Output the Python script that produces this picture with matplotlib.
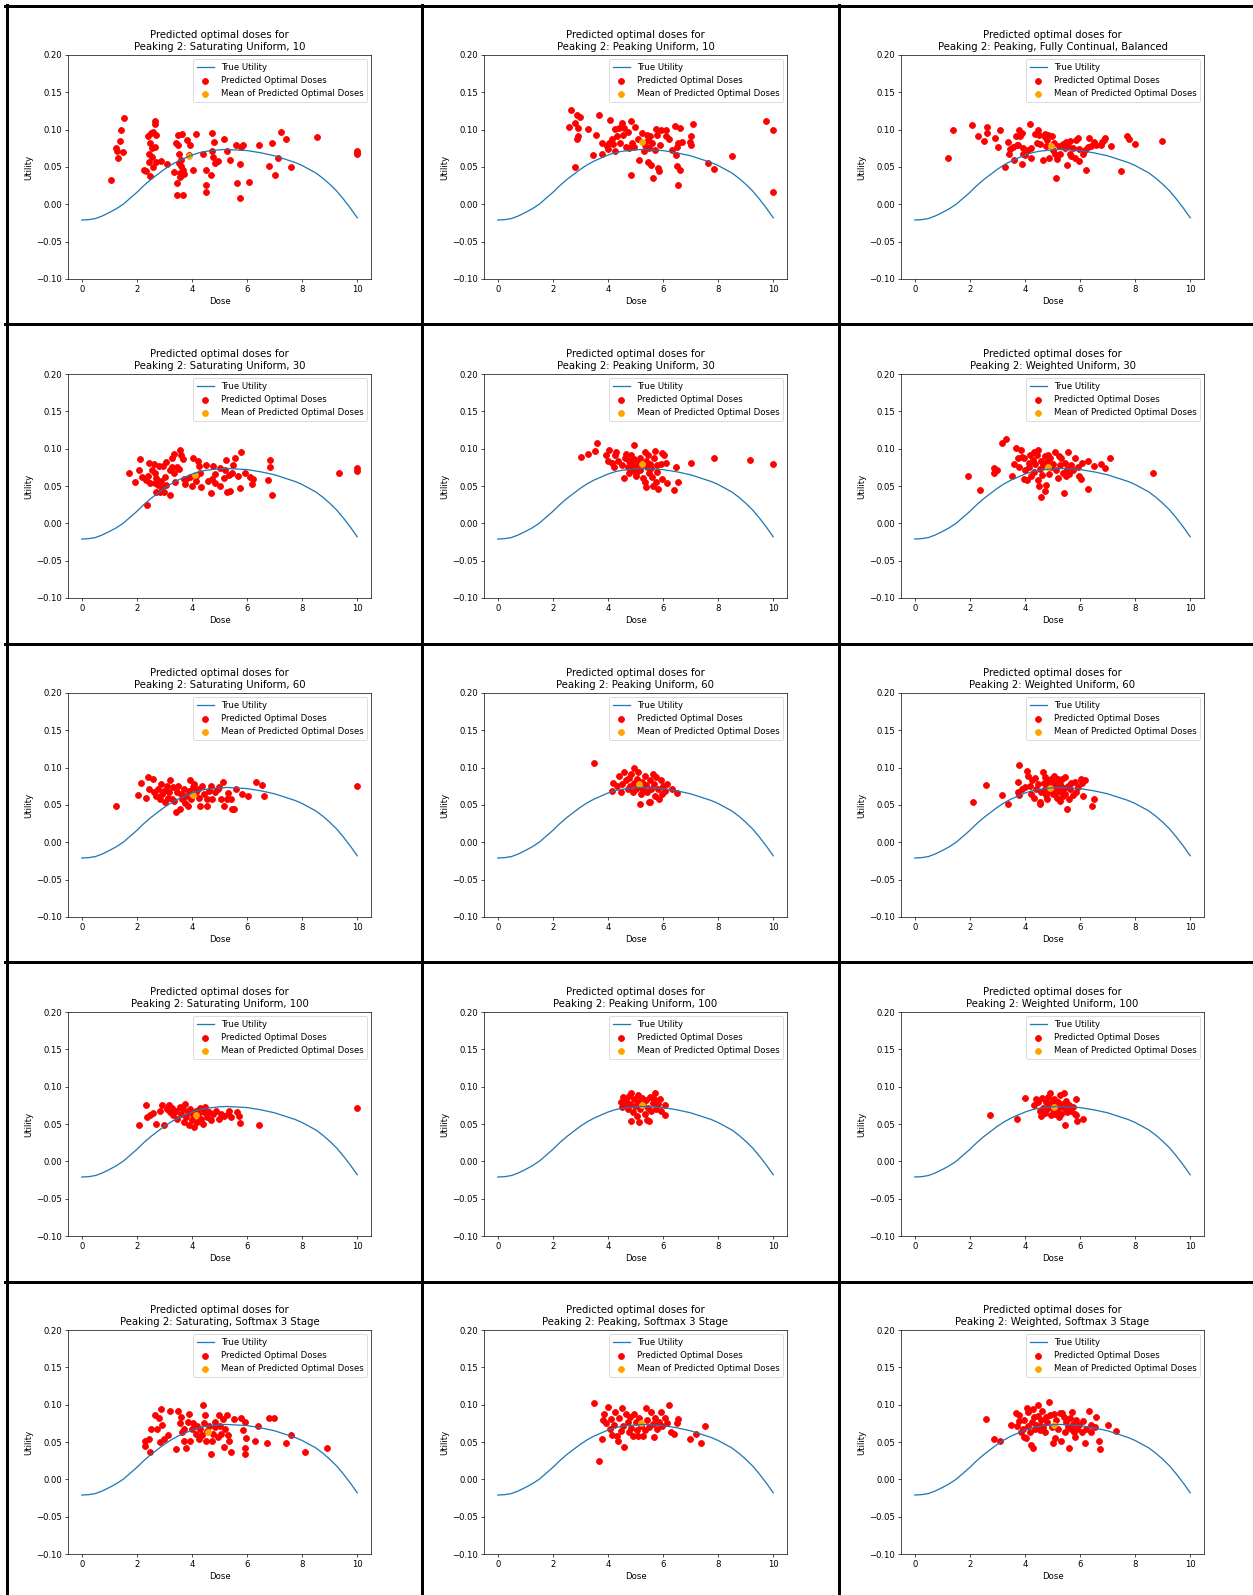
import matplotlib
matplotlib.use("Agg")
import matplotlib.pyplot as plt
from matplotlib.lines import Line2D

# true utility curve, every 0.25
curve_dose = [0, 0.25, 0.5, 0.75, 1, 1.25, 1.5, 1.75, 2, 2.25, 2.5, 2.75, 3, 3.25, 3.5, 3.75, 4,
              4.25, 4.5, 4.75, 5, 5.25, 5.5, 5.75, 6, 6.25, 6.5, 6.75, 7, 7.25, 7.5, 7.75, 8,
              8.25, 8.5, 8.75, 9, 9.25, 9.5, 9.75, 10]
curve_util = [-0.021, -0.0205, -0.019, -0.0155, -0.011, -0.006, 0.000, 0.008, 0.016, 0.025, 0.033,
              0.040, 0.047, 0.053, 0.058, 0.062, 0.066, 0.069, 0.071, 0.072, 0.073, 0.0735, 0.073,
              0.0725, 0.072, 0.0705, 0.069, 0.067, 0.065, 0.062, 0.059, 0.056, 0.052, 0.047, 0.042,
              0.035, 0.027, 0.018, 0.007, -0.005, -0.018]

titles = [
    "Peaking 2: Saturating Uniform, 10",
    "Peaking 2: Peaking Uniform, 10",
    "Peaking 2: Peaking, Fully Continual, Balanced",
    "Peaking 2: Saturating Uniform, 30",
    "Peaking 2: Peaking Uniform, 30",
    "Peaking 2: Weighted Uniform, 30",
    "Peaking 2: Saturating Uniform, 60",
    "Peaking 2: Peaking Uniform, 60",
    "Peaking 2: Weighted Uniform, 60",
    "Peaking 2: Saturating Uniform, 100",
    "Peaking 2: Peaking Uniform, 100",
    "Peaking 2: Weighted Uniform, 100",
    "Peaking 2: Saturating, Softmax 3 Stage",
    "Peaking 2: Peaking, Softmax 3 Stage",
    "Peaking 2: Weighted, Softmax 3 Stage",
]

# mean of predicted optimal doses (dose, utility)
means = [(3.90, 0.065), (5.24, 0.083), (4.95, 0.078),
         (4.11, 0.065), (5.24, 0.079), (4.83, 0.075),
         (4.04, 0.064), (5.14, 0.078), (4.90, 0.073),
         (4.13, 0.062), (5.23, 0.075), (5.07, 0.073),
         (4.58, 0.064), (5.19, 0.076), (5.05, 0.073)]

# predicted optimal doses (dose, utility) per panel
p1 = [(1.06, .033), (1.24, .075), (1.30, .062), (1.37, .085), (1.43, .100), (1.55, .115), (1.49, .070),
      (1.27, .071), (2.26, .046), (2.34, .044), (2.40, .091), (2.43, .067), (2.44, .057), (2.46, .038),
      (2.49, .082), (2.52, .095), (2.54, .075), (2.56, .064), (2.59, .050), (2.65, .107), (2.67, .111),
      (2.68, .093), (2.71, .057), (2.59, .097), (2.65, .077), (2.89, .058), (3.11, .054), (3.34, .043),
      (3.41, .082), (3.44, .013), (3.46, .028), (3.50, .093), (3.50, .079), (3.52, .067), (3.54, .055),
      (3.56, .042), (3.56, .037), (3.59, .059), (3.62, .051), (3.65, .094), (3.66, .013), (3.68, .046),
      (3.71, .041), (3.83, .086), (3.93, .079), (3.88, .066), (4.05, .046), (4.16, .094), (4.39, .067),
      (4.51, .046), (4.51, .026), (4.51, .016), (4.68, .039), (4.72, .096), (4.73, .071), (4.78, .063),
      (4.80, .084), (4.84, .055), (4.96, .058), (5.17, .088), (5.27, .071), (5.39, .060), (5.61, .079),
      (5.63, .028), (5.73, .009), (5.76, .054), (5.78, .077), (5.84, .079), (6.06, .030), (6.43, .080),
      (6.79, .052), (6.91, .082), (7.00, .039), (7.12, .062), (7.22, .097), (7.40, .088), (7.61, .050),
      (8.54, .090), (9.99, .072), (9.99, .067), (9.99, .069)]
p2 = [(2.60, .104), (2.66, .126), (2.80, .109), (2.87, .120), (2.93, .102), (2.89, .088), (2.93, .091),
      (3.00, .117), (2.80, .050), (3.27, .101), (3.45, .066), (3.57, .093), (3.66, .120), (3.78, .082),
      (3.78, .067), (3.96, .078), (4.00, .074), (4.02, .082), (4.06, .113), (4.15, .087), (4.20, .081),
      (4.24, .101), (4.27, .072), (4.33, .091), (4.39, .102), (4.45, .082), (4.51, .109), (4.54, .093),
      (4.59, .102), (4.66, .077), (4.72, .097), (4.76, .075), (4.82, .039), (4.85, .112), (4.88, .082),
      (4.98, .104), (4.95, .077), (5.10, .087), (5.12, .059), (5.24, .095), (5.30, .071), (5.34, .079),
      (5.43, .093), (5.45, .086), (5.46, .057), (5.49, .075), (5.52, .091), (5.55, .053), (5.61, .082),
      (5.63, .035), (5.71, .073), (5.73, .101), (5.79, .093), (5.83, .048), (5.85, .044), (5.88, .079),
      (5.91, .100), (6.10, .100), (6.10, .091), (6.22, .087), (6.34, .073), (6.44, .105), (6.46, .066),
      (6.50, .051), (6.52, .077), (6.55, .082), (6.56, .026), (6.61, .102), (6.62, .046), (6.67, .083),
      (6.98, .084), (7.01, .091), (7.01, .079), (7.07, .107), (7.62, .055), (7.84, .047), (8.51, .065),
      (9.72, .111), (10.0, .100), (10.0, .016)]
p3 = [(1.20, .062), (1.40, .100), (2.09, .106), (2.30, .092), (2.50, .085), (2.61, .095), (2.61, .103),
      (2.90, .089), (3.01, .077), (3.10, .100), (3.28, .050), (3.39, .084), (3.41, .067), (3.45, .074),
      (3.55, .077), (3.61, .059), (3.67, .091), (3.71, .080), (3.76, .079), (3.80, .100), (3.83, .091),
      (3.88, .096), (3.89, .054), (3.92, .068), (3.94, .075), (4.00, .066), (4.10, .073), (4.20, .108),
      (4.22, .075), (4.22, .062), (4.38, .094), (4.43, .082), (4.46, .100), (4.52, .093), (4.55, .081),
      (4.67, .060), (4.71, .094), (4.74, .090), (4.77, .078), (4.81, .086), (4.83, .093), (4.89, .062),
      (4.97, .092), (5.00, .073), (5.07, .082), (5.10, .068), (5.12, .035), (5.17, .061), (5.22, .078),
      (5.29, .067), (5.38, .081), (5.44, .075), (5.50, .084), (5.52, .053), (5.56, .078), (5.62, .067),
      (5.64, .085), (5.68, .065), (5.74, .075), (5.80, .062), (5.86, .086), (5.92, .089), (5.95, .074),
      (5.98, .058), (6.10, .067), (6.17, .073), (6.20, .046), (6.29, .077), (6.31, .089), (6.41, .078),
      (6.51, .083), (6.57, .079), (6.75, .079), (6.80, .083), (6.87, .086), (6.92, .089), (7.12, .078),
      (7.50, .045), (7.69, .091), (7.79, .087), (7.99, .081), (8.99, .085)]
p4 = [(1.71, .067), (1.94, .055), (2.07, .072), (2.13, .086), (2.20, .062), (2.32, .058), (2.38, .024),
      (2.40, .063), (2.44, .081), (2.46, .054), (2.56, .071), (2.61, .080), (2.65, .067), (2.65, .054),
      (2.68, .042), (2.71, .061), (2.77, .051), (2.80, .077), (2.83, .042), (2.87, .057), (2.91, .048),
      (2.95, .077), (2.99, .042), (3.01, .062), (3.04, .082), (3.07, .051), (3.20, .038), (3.20, .072),
      (3.26, .087), (3.29, .076), (3.34, .093), (3.35, .068), (3.38, .056), (3.44, .076), (3.52, .073),
      (3.56, .098), (3.62, .092), (3.68, .086), (3.71, .059), (3.74, .053), (3.80, .060), (3.93, .062),
      (3.99, .050), (4.05, .088), (4.13, .063), (4.16, .057), (4.23, .083), (4.26, .077), (4.29, .068),
      (4.33, .048), (4.51, .078), (4.60, .057), (4.68, .040), (4.72, .059), (4.78, .077), (4.82, .054),
      (4.84, .066), (5.00, .050), (5.02, .074), (5.15, .061), (5.21, .072), (5.24, .085), (5.29, .042),
      (5.33, .065), (5.37, .043), (5.45, .067), (5.49, .078), (5.55, .087), (5.66, .063), (5.73, .047),
      (5.78, .096), (5.91, .068), (6.12, .062), (6.18, .053), (6.21, .060), (6.77, .058), (6.83, .076),
      (6.85, .085), (6.89, .038), (9.33, .068), (9.99, .074), (9.99, .070)]
p5 = [(3.01, .089), (3.29, .093), (3.54, .097), (3.60, .108), (3.94, .091), (4.00, .084), (4.05, .098),
      (4.15, .081), (4.23, .075), (4.27, .091), (4.30, .095), (4.35, .083), (4.51, .078), (4.57, .061),
      (4.61, .087), (4.67, .093), (4.72, .075), (4.76, .067), (4.78, .083), (4.84, .091), (4.88, .078),
      (4.91, .071), (4.94, .105), (4.96, .086), (5.00, .068), (5.02, .063), (5.06, .075), (5.10, .081),
      (5.15, .087), (5.18, .071), (5.24, .078), (5.28, .061), (5.33, .095), (5.34, .055), (5.37, .048),
      (5.39, .084), (5.43, .075), (5.46, .092), (5.49, .068), (5.52, .080), (5.57, .074), (5.61, .062),
      (5.63, .050), (5.67, .087), (5.71, .097), (5.73, .055), (5.77, .078), (5.79, .069), (5.82, .046),
      (5.91, .079), (5.95, .059), (5.98, .094), (6.04, .091), (6.12, .081), (6.16, .054), (6.40, .044),
      (6.46, .076), (6.56, .055), (7.01, .081), (7.84, .087), (9.17, .085), (10.0, .080)]
p6 = [(1.95, .063), (2.37, .044), (2.86, .074), (2.88, .068), (3.00, .072), (3.15, .107), (3.33, .113),
      (3.52, .063), (3.61, .080), (3.67, .101), (3.73, .087), (3.80, .075), (3.86, .098), (3.88, .089),
      (3.95, .087), (3.98, .059), (4.01, .071), (4.07, .058), (4.13, .081), (4.16, .075), (4.20, .092),
      (4.22, .063), (4.28, .085), (4.32, .096), (4.34, .069), (4.38, .079), (4.43, .091), (4.46, .098),
      (4.49, .058), (4.52, .050), (4.55, .073), (4.59, .084), (4.59, .035), (4.62, .065), (4.67, .078),
      (4.71, .090), (4.74, .043), (4.77, .052), (4.81, .082), (4.83, .092), (4.89, .066), (4.92, .087),
      (4.95, .075), (5.01, .080), (5.10, .095), (5.13, .071), (5.19, .061), (5.23, .090), (5.29, .078),
      (5.32, .087), (5.38, .067), (5.40, .040), (5.44, .081), (5.48, .063), (5.52, .073), (5.56, .096),
      (5.60, .066), (5.66, .078), (5.74, .071), (5.82, .087), (5.92, .075), (5.98, .064), (6.04, .059),
      (6.07, .081), (6.29, .083), (6.29, .046), (6.51, .077), (6.75, .080), (6.92, .074), (7.10, .087),
      (8.64, .067)]
p7 = [(1.25, .049), (2.05, .063), (2.14, .080), (2.34, .060), (2.40, .088), (2.44, .071), (2.59, .085),
      (2.63, .067), (2.69, .062), (2.77, .071), (2.83, .058), (2.87, .078), (2.92, .065), (2.98, .069),
      (3.02, .054), (3.08, .075), (3.12, .060), (3.18, .068), (3.22, .083), (3.26, .058), (3.31, .074),
      (3.35, .056), (3.41, .040), (3.45, .067), (3.51, .075), (3.57, .045), (3.60, .065), (3.64, .058),
      (3.70, .071), (3.76, .053), (3.78, .062), (3.84, .049), (3.88, .069), (3.94, .083), (3.98, .058),
      (4.02, .074), (4.08, .078), (4.14, .067), (4.21, .071), (4.27, .060), (4.31, .049), (4.37, .075),
      (4.43, .065), (4.54, .058), (4.56, .049), (4.62, .069), (4.68, .075), (4.72, .058), (4.83, .067),
      (4.93, .071), (4.97, .074), (5.07, .058), (5.12, .081), (5.16, .049), (5.26, .058), (5.31, .066),
      (5.40, .058), (5.46, .045), (5.52, .044), (5.61, .072), (5.81, .065), (6.04, .062), (6.33, .081),
      (6.53, .077), (6.62, .062), (10.0, .075)]
p8 = [(3.48, .106), (4.16, .069), (4.20, .080), (4.32, .075), (4.40, .089), (4.46, .068), (4.51, .078),
      (4.59, .094), (4.65, .083), (4.71, .072), (4.75, .086), (4.79, .076), (4.84, .091), (4.90, .067),
      (4.94, .100), (4.94, .080), (5.00, .071), (5.04, .085), (5.08, .094), (5.14, .074), (5.18, .051),
      (5.19, .065), (5.23, .081), (5.29, .070), (5.33, .089), (5.37, .077), (5.43, .067), (5.49, .054),
      (5.53, .083), (5.56, .072), (5.62, .092), (5.68, .078), (5.72, .062), (5.76, .087), (5.82, .071),
      (5.86, .058), (5.91, .083), (5.95, .065), (6.01, .076), (6.07, .069), (6.15, .078), (6.34, .072),
      (6.50, .066), (5.53, .054)]
p9 = [(2.13, .054), (2.58, .077), (3.16, .063), (3.39, .052), (3.73, .081), (3.73, .068), (3.79, .104),
      (3.79, .063), (3.91, .071), (4.00, .074), (4.06, .095), (4.12, .089), (4.18, .075), (4.22, .065),
      (4.26, .083), (4.32, .059), (4.37, .086), (4.40, .071), (4.47, .078), (4.53, .054), (4.55, .051),
      (4.59, .067), (4.65, .094), (4.68, .080), (4.71, .072), (4.74, .087), (4.77, .063), (4.81, .058),
      (4.83, .077), (4.87, .083), (4.90, .069), (4.95, .085), (4.99, .074), (5.01, .065), (5.05, .080),
      (5.07, .089), (5.11, .068), (5.13, .076), (5.17, .059), (5.19, .085), (5.23, .072), (5.26, .056),
      (5.29, .078), (5.32, .067), (5.35, .085), (5.38, .062), (5.41, .073), (5.44, .087), (5.47, .065),
      (5.52, .045), (5.56, .076), (5.59, .058), (5.62, .071), (5.68, .080), (5.74, .063), (5.80, .081),
      (5.86, .068), (5.92, .074), (6.02, .085), (6.07, .080), (6.11, .062), (6.17, .083), (6.44, .048),
      (6.51, .058)]
p10 = [(2.09, .048), (2.34, .076), (2.38, .059), (2.48, .062), (2.57, .065), (2.69, .050), (2.83, .067),
       (2.92, .075), (2.98, .048), (3.08, .070), (3.18, .075), (3.22, .066), (3.27, .071), (3.31, .062),
       (3.41, .067), (3.47, .057), (3.55, .073), (3.61, .063), (3.66, .070), (3.70, .053), (3.76, .077),
       (3.80, .059), (3.84, .066), (3.90, .048), (3.94, .070), (3.99, .055), (4.04, .062), (4.09, .046),
       (4.13, .068), (4.19, .053), (4.23, .064), (4.29, .071), (4.33, .057), (4.39, .050), (4.44, .066),
       (4.48, .073), (4.54, .059), (4.62, .066), (4.68, .055), (4.78, .064), (4.87, .068), (4.97, .057),
       (5.07, .064), (5.17, .061), (5.32, .064), (5.36, .068), (5.40, .059), (5.65, .066), (5.69, .061),
       (5.75, .052), (6.43, .048), (10.0, .071)]
p11 = [(4.46, .079), (4.51, .073), (4.55, .086), (4.59, .076), (4.65, .082), (4.71, .070), (4.75, .088),
       (4.79, .077), (4.84, .092), (4.84, .054), (4.90, .066), (4.94, .083), (4.98, .074), (5.04, .061),
       (5.08, .089), (5.10, .079), (5.14, .053), (5.18, .070), (5.23, .085), (5.27, .076), (5.33, .064),
       (5.37, .082), (5.43, .056), (5.47, .072), (5.53, .086), (5.56, .068), (5.62, .078), (5.68, .083),
       (5.72, .092), (5.76, .070), (5.82, .077), (5.88, .083), (5.91, .068), (5.49, .054), (6.07, .075),
       (6.07, .062)]
p12 = [(2.74, .062), (3.70, .057), (4.01, .085), (4.34, .076), (4.40, .083), (4.46, .079), (4.53, .068),
       (4.59, .061), (4.62, .085), (4.67, .072), (4.71, .065), (4.77, .079), (4.81, .070), (4.85, .086),
       (4.89, .076), (4.92, .092), (4.95, .062), (4.99, .079), (5.01, .070), (5.05, .084), (5.10, .063),
       (5.13, .075), (5.17, .068), (5.19, .080), (5.23, .059), (5.26, .073), (5.29, .089), (5.32, .064),
       (5.38, .077), (5.40, .091), (5.44, .070), (5.47, .049), (5.50, .081), (5.54, .066), (5.59, .076),
       (5.66, .068), (5.74, .073), (5.80, .064), (5.84, .083), (5.86, .062), (5.90, .054), (6.11, .057)]
p13 = [(2.28, .051), (2.30, .045), (2.44, .054), (2.48, .037), (2.53, .068), (2.67, .086), (2.73, .067),
       (2.79, .082), (2.83, .050), (2.88, .094), (2.92, .073), (2.98, .054), (3.12, .059), (3.22, .092),
       (3.41, .041), (3.51, .092), (3.57, .075), (3.61, .083), (3.65, .063), (3.70, .052), (3.72, .067),
       (3.80, .042), (3.84, .077), (3.90, .087), (3.94, .052), (3.99, .067), (4.05, .075), (4.13, .061),
       (4.19, .072), (4.25, .054), (4.29, .067), (4.35, .059), (4.39, .100), (4.43, .075), (4.46, .086),
       (4.50, .052), (4.54, .065), (4.62, .072), (4.68, .034), (4.72, .052), (4.78, .061), (4.84, .070),
       (4.85, .077), (4.93, .057), (4.97, .086), (5.01, .072), (5.07, .061), (5.13, .081), (5.16, .043),
       (5.20, .067), (5.26, .086), (5.32, .059), (5.36, .052), (5.40, .037), (5.52, .081), (5.79, .082),
       (5.85, .066), (5.91, .077), (5.91, .042), (5.91, .034), (5.98, .055), (6.30, .052), (6.39, .072),
       (6.72, .048), (6.80, .082), (6.98, .082), (7.41, .049), (7.60, .059), (8.11, .036), (8.91, .042)]
p14 = [(3.48, .102), (3.68, .025), (3.77, .054), (3.81, .079), (3.87, .088), (3.93, .075), (4.01, .097),
       (4.07, .067), (4.12, .081), (4.16, .060), (4.22, .073), (4.26, .090), (4.32, .058), (4.36, .052),
       (4.40, .082), (4.46, .065), (4.51, .096), (4.55, .072), (4.59, .043), (4.65, .088), (4.71, .077),
       (4.75, .063), (4.79, .084), (4.84, .069), (4.90, .058), (4.94, .088), (5.00, .077), (5.04, .066),
       (5.10, .058), (5.14, .082), (5.19, .072), (5.27, .058), (5.33, .066), (5.39, .095), (5.43, .079),
       (5.49, .070), (5.56, .090), (5.62, .074), (5.68, .057), (5.72, .082), (5.78, .068), (5.86, .077),
       (5.91, .090), (5.97, .072), (6.07, .082), (6.15, .075), (6.21, .100), (6.30, .063), (6.40, .061),
       (6.50, .075), (6.54, .081), (6.98, .054), (7.18, .061), (7.37, .049), (7.51, .072)]
p15 = [(2.60, .081), (2.88, .054), (3.10, .051), (3.49, .073), (3.67, .089), (3.71, .072), (3.77, .086),
       (3.80, .078), (3.86, .063), (3.92, .068), (3.95, .057), (3.98, .079), (4.04, .055), (4.08, .096),
       (4.10, .090), (4.12, .072), (4.18, .064), (4.22, .046), (4.26, .077), (4.28, .094), (4.31, .042),
       (4.34, .083), (4.37, .068), (4.40, .073), (4.46, .100), (4.49, .085), (4.53, .072), (4.56, .066),
       (4.59, .079), (4.62, .091), (4.67, .070), (4.71, .063), (4.75, .083), (4.81, .077), (4.89, .104),
       (4.92, .086), (4.98, .070), (5.01, .048), (5.07, .088), (5.10, .056), (5.13, .079), (5.19, .068),
       (5.26, .089), (5.32, .052), (5.35, .089), (5.40, .083), (5.44, .063), (5.50, .077), (5.56, .070),
       (5.60, .042), (5.65, .082), (5.68, .067), (5.71, .090), (5.74, .074), (5.78, .063), (5.80, .057),
       (5.84, .079), (5.89, .068), (5.95, .073), (6.07, .063), (6.11, .078), (6.17, .049), (6.23, .068),
       (6.31, .092), (6.39, .063), (6.41, .073), (6.53, .070), (6.59, .083), (6.69, .052), (6.72, .041),
       (7.00, .073), (7.30, .065)]

points = [p1, p2, p3, p4, p5, p6, p7, p8, p9, p10, p11, p12, p13, p14, p15]

# each panel is a shrunk copy of a default 640x480 matplotlib figure
W, H = 1253, 1595
k = 303 / 496
plt.rcParams.update({
    "font.size": 10 * k,
    "axes.titlesize": 12 * k,
    "axes.labelsize": 10 * k,
    "xtick.labelsize": 10 * k,
    "ytick.labelsize": 10 * k,
    "legend.fontsize": 10 * k,
    "axes.linewidth": 0.8 * k,
    "xtick.major.size": 3.5 * k,
    "ytick.major.size": 3.5 * k,
    "xtick.major.width": 0.8 * k,
    "ytick.major.width": 0.8 * k,
    "xtick.major.pad": 3.5 * k,
    "ytick.major.pad": 3.5 * k,
    "axes.titlepad": 6 * k,
    "axes.labelpad": 4 * k,
    "lines.linewidth": 1.5 * k,
    "patch.linewidth": 1.0 * k,
})

fig = plt.figure(figsize=(W / 100, H / 100), dpi=100)

col_left = [68, 484, 901]
row_top = [55, 374, 693, 1012, 1330]
ax_w, ax_h = 303, 224

for i in range(15):
    r, c = divmod(i, 3)
    ax = fig.add_axes([col_left[c] / W, 1 - (row_top[r] + ax_h) / H, ax_w / W, ax_h / H])
    xs = [p[0] for p in points[i]]
    ys = [p[1] for p in points[i]]
    ax.plot(curve_dose, curve_util, color="#1f77b4", label="True Utility")
    ax.scatter(xs, ys, color="red", s=18, label="Predicted Optimal Doses")
    ax.scatter([means[i][0]], [means[i][1]], color="orange", s=18,
               label="Mean of Predicted Optimal Doses")
    ax.set_ylim(-0.1, 0.2)
    ax.set_xticks([0, 2, 4, 6, 8, 10])
    ax.set_title("Predicted optimal doses for\n" + titles[i])
    ax.set_xlabel("Dose")
    ax.set_ylabel("Utility")
    ax.legend(loc="upper right")

# black table borders around the pasted panels
lw = 3 * 72 / 100
for x in [6.5, 422, 839]:
    fig.add_artist(Line2D([x / W, x / W], [0, 1 - 5 / H], color="black", lw=lw))
for y in [6, 323.5, 643.5, 961.5, 1281.5]:
    fig.add_artist(Line2D([5 / W, 1], [1 - y / H, 1 - y / H], color="black", lw=lw))

fig.savefig("out.png", dpi=100, facecolor="white")
